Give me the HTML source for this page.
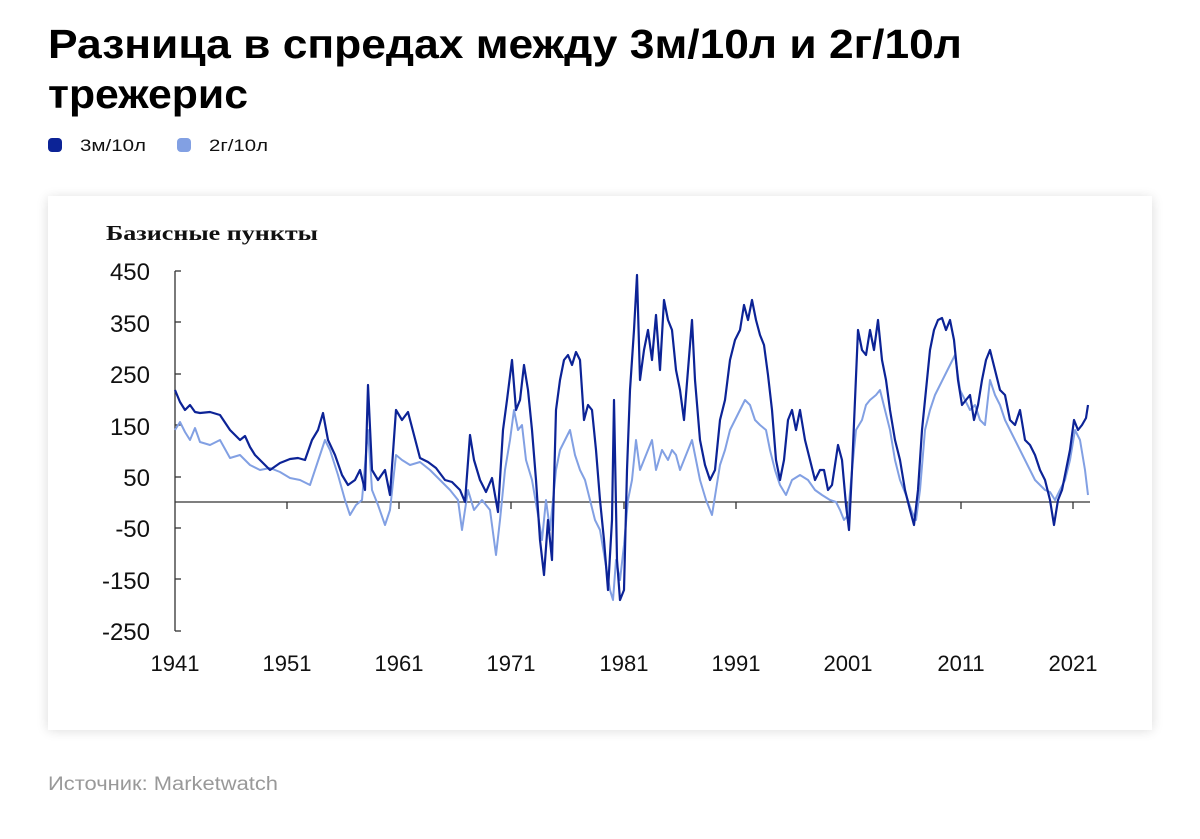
<!DOCTYPE html>
<html><head><meta charset="utf-8"><style>
html,body{margin:0;padding:0;background:#fff;}
</style></head><body>
<svg width="1200" height="834" viewBox="0 0 1200 834" xmlns="http://www.w3.org/2000/svg">
<defs><filter id="sh" x="-5%" y="-5%" width="110%" height="115%"><feGaussianBlur stdDeviation="6"/></filter></defs>
<g font-family="Liberation Sans, Noto Sans CJK JP, sans-serif">
<text x="48" y="58" font-size="41" font-weight="bold" fill="#000" textLength="914" lengthAdjust="spacingAndGlyphs">Разница в спредах между 3м/10л и 2г/10л</text>
<text x="48" y="108" font-size="41" font-weight="bold" fill="#000" textLength="200" lengthAdjust="spacingAndGlyphs">трежерис</text>
<rect x="48" y="138" width="14" height="14" rx="4" fill="#0c2396"/>
<text x="80" y="151" font-size="17" fill="#111" textLength="66" lengthAdjust="spacingAndGlyphs">3м/10л</text>
<rect x="177" y="138" width="14" height="14" rx="4" fill="#82a0e3"/>
<text x="209" y="151" font-size="17" fill="#111" textLength="59" lengthAdjust="spacingAndGlyphs">2г/10л</text>
<rect x="48" y="198" width="1104" height="532" fill="#000" opacity="0.15" filter="url(#sh)"/>
<rect x="48" y="196" width="1104" height="534" fill="#fff"/>
<text x="106" y="240" font-family="Liberation Serif, serif" font-size="21" font-weight="bold" fill="#111" textLength="212" lengthAdjust="spacingAndGlyphs">Базисные пункты</text>
<g font-size="24" fill="#111" text-anchor="end">
<text x="150" y="280">450</text><text x="150" y="332">350</text><text x="150" y="383">250</text>
<text x="150" y="435">150</text><text x="150" y="486">50</text><text x="150" y="537">-50</text>
<text x="150" y="589">-150</text><text x="150" y="640">-250</text>
</g>
<g font-size="22" fill="#111" text-anchor="middle">
<text x="175" y="671">1941</text><text x="287" y="671">1951</text><text x="399" y="671">1961</text>
<text x="511" y="671">1971</text><text x="624" y="671">1981</text><text x="736" y="671">1991</text>
<text x="848" y="671">2001</text><text x="961" y="671">2011</text><text x="1073" y="671">2021</text>
</g>
<g stroke="#333" stroke-width="1.3">
<line x1="175" y1="271" x2="175" y2="631"/>
<line x1="175" y1="271" x2="181" y2="271"/><line x1="175" y1="322" x2="181" y2="322"/>
<line x1="175" y1="374" x2="181" y2="374"/><line x1="175" y1="425" x2="181" y2="425"/>
<line x1="175" y1="477" x2="181" y2="477"/><line x1="175" y1="528" x2="181" y2="528"/>
<line x1="175" y1="579" x2="181" y2="579"/><line x1="175" y1="631" x2="181" y2="631"/>
<line x1="175" y1="502" x2="1090" y2="502"/>
<line x1="287" y1="502" x2="287" y2="509"/><line x1="399" y1="502" x2="399" y2="509"/>
<line x1="511" y1="502" x2="511" y2="509"/><line x1="624" y1="502" x2="624" y2="509"/>
<line x1="736" y1="502" x2="736" y2="509"/><line x1="848" y1="502" x2="848" y2="509"/>
<line x1="961" y1="502" x2="961" y2="509"/><line x1="1073" y1="502" x2="1073" y2="509"/>
</g>
<polyline fill="none" stroke="#82a0e3" stroke-width="2" stroke-linejoin="round" points="175,430 180,422 185,432 190,440 195,428 200,442 210,445 220,440 230,458 240,455 250,465 260,470 270,468 280,472 290,478 300,480 310,485 320,455 325,440 330,450 338,475 345,500 350,515 356,505 362,500 368,430 372,490 378,505 385,525 390,510 396,455 402,460 410,465 420,462 430,470 440,480 450,490 458,500 462,530 468,490 474,510 482,500 490,510 496,555 500,520 505,470 510,440 514,410 518,430 522,425 526,460 532,480 538,515 542,540 546,500 550,530 556,470 560,450 565,440 570,430 575,455 580,470 585,480 590,500 595,520 600,530 605,560 610,590 613,600 616,560 620,580 624,545 628,500 632,480 636,440 640,470 646,455 652,440 656,470 662,450 668,460 672,450 676,455 680,470 686,455 692,440 696,460 700,480 706,500 712,515 716,490 720,465 725,450 730,430 735,420 740,410 745,400 750,405 755,420 760,425 766,430 770,450 775,470 780,485 786,495 792,480 800,475 808,480 815,490 822,495 830,500 836,502 840,510 844,520 848,515 852,470 856,430 862,420 866,405 870,400 876,395 880,390 885,410 890,430 895,460 900,480 906,495 912,512 916,520 920,490 925,430 930,410 935,395 940,385 945,375 950,365 955,355 960,390 965,400 970,410 975,405 980,420 985,425 990,380 995,395 1000,405 1005,420 1010,430 1015,440 1020,450 1025,460 1030,470 1035,480 1040,485 1045,490 1050,492 1055,500 1060,490 1065,480 1070,460 1075,430 1080,440 1085,470 1088,495"/>
<polyline fill="none" stroke="#0c2396" stroke-width="2.2" stroke-linejoin="round" points="175,390 180,402 185,410 190,405 195,412 200,413 210,412 220,415 230,430 240,440 245,436 250,447 255,455 262,462 270,470 280,463 290,459 298,458 305,460 312,440 318,430 323,413 328,440 335,455 342,475 348,485 355,480 360,470 365,490 368,385 372,470 378,480 385,470 390,495 396,410 402,420 408,412 414,435 420,458 428,462 436,468 445,480 452,482 460,490 465,502 470,435 474,460 480,480 486,492 492,478 498,512 503,430 507,400 512,360 516,410 520,400 524,365 528,390 532,430 536,480 540,540 544,575 548,520 552,560 556,410 560,380 564,360 568,355 572,365 576,352 580,360 584,420 588,405 592,410 596,450 600,500 604,540 608,590 612,520 614,400 617,560 620,600 624,590 627,470 630,390 634,330 637,275 640,380 644,350 648,330 652,360 656,315 660,370 664,300 668,320 672,330 676,370 680,390 684,420 688,370 692,320 695,380 700,440 705,465 710,480 715,470 720,420 725,400 730,360 735,340 740,330 744,305 748,320 752,300 756,320 760,335 764,345 768,375 772,410 776,460 780,480 784,460 788,420 792,410 796,430 800,410 805,440 810,460 815,480 820,470 824,470 828,490 832,485 838,445 842,460 846,505 849,530 852,470 855,400 858,330 862,350 866,355 870,330 874,350 878,320 882,360 886,380 890,410 895,440 900,460 905,490 910,510 914,525 918,490 922,430 926,390 930,350 934,330 938,320 942,318 946,330 950,320 954,340 958,380 962,405 966,400 970,395 974,420 978,405 982,380 986,360 990,350 995,370 1000,390 1005,395 1010,420 1015,425 1020,410 1025,440 1030,445 1035,455 1040,470 1045,480 1050,500 1054,525 1058,500 1062,490 1066,470 1070,450 1074,420 1078,430 1082,425 1086,418 1088,405"/>
<text x="48" y="790" font-size="19" fill="#999" textLength="230" lengthAdjust="spacingAndGlyphs">Источник: Marketwatch</text>
</g>
</svg>
</body></html>
